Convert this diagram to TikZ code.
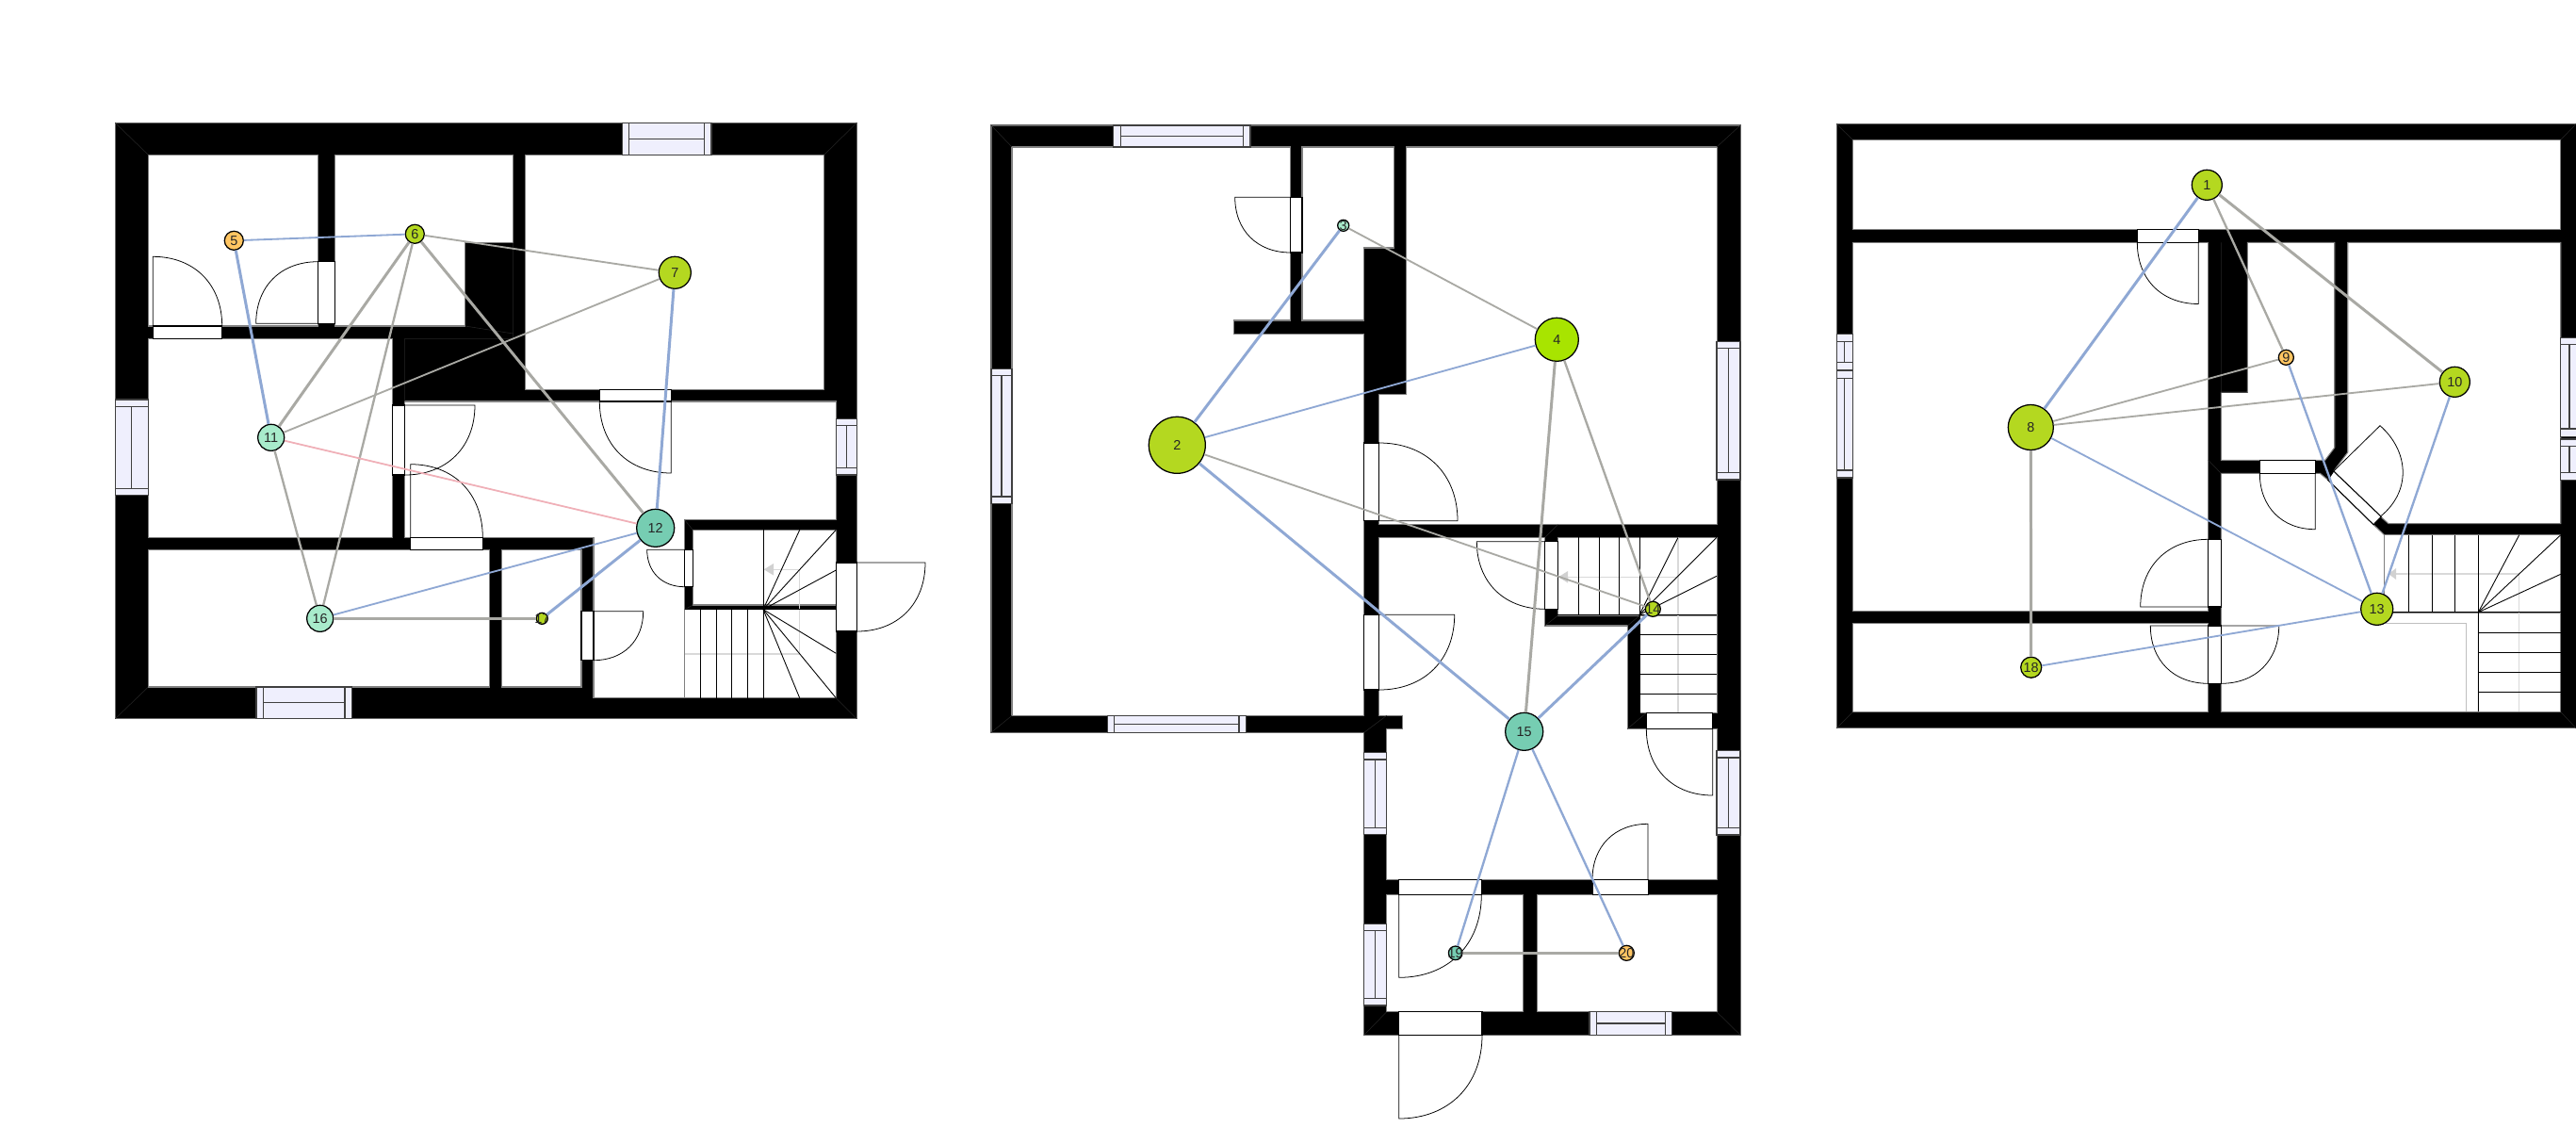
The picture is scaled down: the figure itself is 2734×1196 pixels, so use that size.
\documentclass[tikz,border=0pt]{standalone}
\usepackage{fontspec}
\setmainfont{Liberation Sans}
\definecolor{cblue}{HTML}{8FA8D4}
\definecolor{cgrey}{HTML}{A9A9A4}
\definecolor{cpink}{HTML}{F0B0B8}
\definecolor{cyg}{HTML}{B4D820}
\definecolor{clime}{HTML}{A8E400}
\definecolor{corange}{HTML}{FFC562}
\definecolor{cmint}{HTML}{A8EBCB}
\definecolor{cteal}{HTML}{76CDB2}
\definecolor{cglass}{HTML}{EFEFFD}
\tikzset{
 wallshape/.style={fill=black,draw=black!60,line width=0.3pt},
 roomshape/.style={fill=white,draw=black!50,line width=0.3pt},
 seam/.style={draw=black!85,line width=0.15pt},
 glass/.style={fill=cglass,draw=black!75,line width=0.35pt},
 opening/.style={fill=white,draw=black,line width=0.3pt},
 doorline/.style={draw=black,line width=0.22pt},
 stairline/.style={draw=black,line width=0.25pt},
 faint/.style={draw=black!15,line width=0.4pt},
 faintarrow/.style={fill=black!18,draw=none},
 lb/.style={line width=0.52pt,draw=cblue},
 lm/.style={line width=0.66pt,draw=cblue},
 lB/.style={line width=0.85pt,draw=cblue},
 lg/.style={line width=0.52pt,draw=cgrey},
 ln/.style={line width=0.66pt,draw=cgrey},
 lG/.style={line width=0.85pt,draw=cgrey},
 lp/.style={line width=0.5pt,draw=cpink},
 vtx/.style={circle,draw=black,line width=0.36pt,inner sep=0pt},
 lab/.style={font=\fontsize{4.1}{4.1}\selectfont,inner sep=0pt,text=black!85},
}
% horizontal window: x1 x2 y1 y2 xa xb
\newcommand\winH[6]{\draw[glass] (#1,#3) rectangle (#2,#4);
 \draw[glass] (#5,#3) -- (#5,#4) (#6,#3) -- (#6,#4) (#5,{(#3+#4)/2}) -- (#6,{(#3+#4)/2});}
% vertical window: x1 x2 y1 y2 ya yb
\newcommand\winV[6]{\draw[glass] (#1,#3) rectangle (#2,#4);
 \draw[glass] (#1,#5) -- (#2,#5) (#1,#6) -- (#2,#6) ({(#1+#2)/2},#5) -- ({(#1+#2)/2},#6);}
% door leaf: hinge, tip, far jamb
\newcommand\leaf[6]{\draw[doorline] (#1,#2) -- (#3,#4) .. controls ({#3+0.6*(#5-#1)},{#4+0.6*(#6-#2)}) and ({#5+0.6*(#3-#1)},{#6+0.6*(#4-#2)}) .. (#5,#6);}
\newcommand\vt[5]{\node[vtx,fill=#1,minimum size=#2*0.02cm,label={[lab]center:#5}] (n#5) at (#3,#4) {};}
\begin{document}
\begin{tikzpicture}[x=0.01cm,y=-0.01cm]
\useasboundingbox (0,0) rectangle (2734,1196);
%%%%%%%%%%%%%%%% PLAN 1
\draw[wallshape] (122.3,130.3) rectangle (909.3,762.7);
\draw[roomshape] (157.3,164.3) rectangle (337.3,346);
\draw[roomshape] (355.3,164.3) -- (544.7,164.3) -- (544.7,257.7) -- (493.7,257.7) -- (493.7,346) -- (355.3,346) -- cycle;
\fill[black] (494,258) rectangle (545.5,346);
\draw[roomshape] (557.7,164.3) rectangle (874.7,413.3);
\draw[roomshape] (157.3,359.3) rectangle (416.7,570.3);
\draw[roomshape] (429.7,426) -- (887.3,426) -- (887.3,551.7) -- (726.7,551.7) -- (726.7,740.7) -- (630,740.7) -- (630,570.3) -- (429.7,570.3) -- cycle;
\draw[roomshape] (157.3,583.3) rectangle (519.7,729);
\draw[roomshape] (532.7,583.3) rectangle (617,729);
\draw[roomshape] (735.3,562.3) rectangle (887.3,642);
\draw[roomshape] (726.7,646.7) rectangle (887.3,740.7);
\draw[seam] (122.3,130.3) -- (157.3,164.3) (909.3,130.3) -- (874.7,164.3) (122.3,762.7) -- (157.3,729) (909.3,762.7) -- (887.3,740.7)
 (429.7,426) -- (429.7,359.3) -- (544.7,359.3) (544.7,257.7) -- (544.7,359.3) (493.7,346) -- (544.7,354)
 (726.7,551.7) -- (735.3,562.3) (726.7,646.7) -- (735.3,642);
% stairs
\draw[faint] (726.7,694) -- (848.7,694) -- (848.7,604.3) -- (820,604.3);
\fill[faintarrow] (810.7,604.3) -- (821,598) -- (821,610.5) -- cycle;
\draw[stairline] (810,562.3) -- (810,740.7) (726.7,646.7) -- (887.3,646.7);
\foreach \sx in {743.7,760,776.7,793.7} {\draw[stairline] (\sx,646.7) -- (\sx,740.7);}
\foreach \ex/\ey in {848.7/562.3,887.3/562.3,887.3/605,887.3/693.3,887.3/740.7,848.7/740.7} {\draw[stairline] (810,646.7) -- (\ex,\ey);}
% windows
\winH{660.3}{755}{130.3}{164.3}{667.7}{747.7}
\winH{272}{373.3}{729}{762.7}{279.3}{366}
\winV{122.3}{157.3}{424}{525.7}{431.7}{518.3}
\winV{887.3}{909.3}{444.3}{504}{451.3}{496.7}
% doors
\draw[opening] (162.3,346) rectangle (235.7,359.3); \leaf{162.3}{346}{162.3}{272.3}{235.7}{346}
\draw[opening] (337.3,277.7) rectangle (355.3,343.3); \leaf{337.3}{343.3}{271.7}{343.3}{337.3}{277.7}
\draw[opening] (416.7,430) rectangle (429.7,504); \leaf{429.7}{430}{504}{430}{429.7}{504}
\draw[opening] (435.7,570.3) rectangle (512.3,583.3); \leaf{435.7}{570.3}{435.7}{492.7}{512.3}{570.3}
\draw[opening] (636.3,413.3) rectangle (712.3,426); \leaf{712.3}{426}{712.3}{502}{636.3}{426}
\draw[opening] (617,648.7) rectangle (630,700.7); \leaf{630}{648.7}{682.7}{648.7}{630}{700.7}
\draw[opening] (726.7,583.3) rectangle (735.3,622.7); \leaf{726.7}{583.3}{686.7}{583.3}{726.7}{622.7}
\draw[opening] (887.3,597) rectangle (909.3,670); \leaf{909.3}{597}{982}{597}{909.3}{670}
%%%%%%%%%%%%%%%% PLAN 2
\draw[wallshape] (1052,133) -- (1847,133) -- (1847,1098.3) -- (1447.7,1098.3) -- (1447.7,777.3) -- (1052,777.3) -- cycle;
\draw[roomshape] (1074,156) -- (1369.7,156) -- (1369.7,340) -- (1309.7,340) -- (1309.7,354.3) -- (1447.7,354.3) -- (1447.7,759.3) -- (1074,759.3) -- cycle;
\draw[roomshape] (1382,156) -- (1479.7,156) -- (1479.7,263) -- (1447.7,263) -- (1447.7,340) -- (1382,340) -- cycle;
\draw[roomshape] (1492.7,156) -- (1822,156) -- (1822,556.7) -- (1463.7,556.7) -- (1463.7,418.3) -- (1492.7,418.3) -- cycle;
\draw[roomshape] (1463.7,570.3) -- (1639.7,570.3) -- (1639.7,664) -- (1727.3,664) -- (1727.3,773.3) -- (1822,773.3) -- (1822,933.3) -- (1471.7,933.3) -- (1471.7,773.3) -- (1488.3,773.3) -- (1488.3,759.3) -- (1463.7,759.3) -- cycle;
\draw[roomshape] (1653.3,570.3) rectangle (1822,653.3);
\draw[roomshape] (1740,653.3) rectangle (1822,756.7);
\draw[roomshape] (1471.7,949.3) rectangle (1616.3,1073.7);
\draw[roomshape] (1631.3,949.3) rectangle (1822,1073.7);
\draw[seam] (1052,133) -- (1074,156) (1847,133) -- (1822,156) (1052,777.3) -- (1074,759.3) (1447.7,777.3) -- (1471.7,759.3)
 (1447.7,1098.3) -- (1471.7,1073.7) (1847,1098.3) -- (1822,1073.7) (1653.3,556.7) -- (1639.7,570.3)
 (1653.3,653.3) -- (1639.7,664) (1740,653.3) -- (1727.3,664) (1727.3,773.3) -- (1747,756.7);
% stairs
\draw[faint] (1781,570.3) -- (1781,756.7) (1781,612.3) -- (1664,612.3);
\fill[faintarrow] (1654,612.3) -- (1664,606) -- (1664,618.5) -- cycle;
\draw[stairline] (1740,570.3) -- (1740,756.7) (1653.3,652.3) -- (1822,652.3);
\foreach \sx in {1675,1697,1718.7} {\draw[stairline] (\sx,570.3) -- (\sx,652.3);}
\foreach \sy in {673.3,694.3,715.3,736.3} {\draw[stairline] (1740,\sy) -- (1822,\sy);}
\foreach \ex/\ey in {1781/570.3,1822/570.3,1822/611.3} {\draw[stairline] (1740,652.3) -- (\ex,\ey);}
% windows
\winH{1181.7}{1327}{133}{156}{1189.7}{1319.3}
\winH{1175.3}{1322.3}{759.3}{777.3}{1182.7}{1315}
\winH{1687}{1774.3}{1073.7}{1098.3}{1694.3}{1767.3}
\winV{1052}{1074}{391.7}{534.3}{398.7}{527}
\winV{1822}{1847}{362.3}{509}{369.3}{501.7}
\winV{1447.7}{1471.7}{798.7}{885.3}{806}{878.7}
\winV{1447.7}{1471.7}{980.7}{1067}{987.7}{1059.3}
\winV{1822}{1847}{796.7}{886}{804}{878.7}
% doors
\draw[opening] (1369.7,209.3) rectangle (1382,268); \leaf{1369.7}{209.3}{1310.7}{209.3}{1369.7}{268}
\draw[opening] (1447.7,470) rectangle (1463.7,552.7); \leaf{1463.7}{552.7}{1547}{552.7}{1463.7}{470}
\draw[opening] (1447.7,652.3) rectangle (1463.7,732); \leaf{1463.7}{652.3}{1543.7}{652.3}{1463.7}{732}
\draw[opening] (1639.7,574.7) rectangle (1653.3,646.3); \leaf{1639.7}{574.7}{1567.3}{574.7}{1639.7}{646.3}
\draw[opening] (1747.3,756.7) rectangle (1817.7,773.3); \leaf{1817.7}{773.3}{1817.7}{844}{1747.3}{773.3}
\draw[opening] (1484.7,933.3) rectangle (1572.3,949.3); \leaf{1484.7}{949.3}{1484.7}{1037.3}{1572.3}{949.3}
\draw[opening] (1690,933.3) rectangle (1749,949.3); \leaf{1749}{933.3}{1749}{874.3}{1690}{933.3}
\draw[opening] (1484.7,1073.7) rectangle (1573,1098.3); \leaf{1484.7}{1098.3}{1484.7}{1187}{1573}{1098.3}
%%%%%%%%%%%%%%%% PLAN 3
\draw[wallshape] (1949.3,131.5) rectangle (2736,772.7);
\draw[roomshape] (1966.3,148.4) rectangle (2717.7,243.4);
\draw[roomshape] (1966.3,257.3) rectangle (2343.7,648.8);
\draw[roomshape] (1966.3,661.5) rectangle (2343.7,755.5);
\draw[roomshape] (2385.3,257.3) -- (2477.7,257.3) -- (2477.7,475) -- (2467.7,488.3) -- (2357.3,488.3) -- (2357.3,416.3) -- (2385.3,416.3) -- cycle;
\draw[roomshape] (2491.7,257.3) -- (2717.7,257.3) -- (2717.7,555.7) -- (2535,555.7) -- (2526.7,548.3) -- (2476.7,500) -- (2491.7,480) -- cycle;
\draw[roomshape] (2357.3,502.3) -- (2462.3,502.3) -- (2470.7,509.3) -- (2519,556.7) -- (2530.7,567.7) -- (2530.7,650) -- (2630.3,650) -- (2630.3,755.3) -- (2357.3,755.3) -- cycle;
\draw[roomshape] (2530.7,567.7) rectangle (2717.7,650);
\draw[roomshape] (2630.3,650) rectangle (2717.7,755.3);
\draw[seam] (1949.3,131.5) -- (1966.3,148.4) (1949.3,772.7) -- (1966.3,755.5) (2734,131.5) -- (2717.7,148.4) (2734,772.7) -- (2717.7,755.3)
 (2343.7,488.3) -- (2357.3,502.3) (2357.3,257.3) -- (2357.3,416.3) -- (2385.3,416.3);
% stairs
\draw[draw=black!25,line width=0.3pt] (2532,661.3) -- (2617.7,661.3) -- (2617.7,755.3);
\draw[faint] (2673.7,609) -- (2673.7,755.3) (2673.7,609) -- (2543,609);
\fill[faintarrow] (2535,609) -- (2543,603) -- (2543,615) -- cycle;
\draw[stairline] (2630.3,567.7) -- (2630.3,755.3) (2530.7,649.7) -- (2717.7,649.7);
\foreach \sx in {2556.7,2581.3,2605.7} {\draw[stairline] (\sx,567.7) -- (\sx,649.7);}
\foreach \sy in {671,692.3,713.3,734.3} {\draw[stairline] (2630.3,\sy) -- (2717.7,\sy);}
\foreach \ex/\ey in {2673.7/567.7,2717.7/567.7,2717.7/609.3} {\draw[stairline] (2630.3,649.7) -- (\ex,\ey);}
% windows
\winV{1949.3}{1966.3}{354.1}{392.8}{362.1}{384.4}
\winV{1949.3}{1966.3}{393.7}{507}{401.3}{499}
\winV{2717.7}{2736}{358.3}{463.3}{365.7}{455}
\winV{2717.7}{2736}{466}{509.3}{473.3}{501.7}
% doors
\draw[opening] (2268.3,243.4) rectangle (2333.3,257.3); \leaf{2333.3}{257.3}{2333.3}{322.5}{2268.3}{257.3}
\draw[opening] (2343.7,572.3) rectangle (2357.3,644); \leaf{2343.7}{644}{2271.7}{644}{2343.7}{572.3}
\draw[opening] (2343.7,664) rectangle (2357.3,725.3); \leaf{2343.7}{664}{2282.3}{664}{2343.7}{725.3}
\leaf{2357.3}{664}{2418.7}{664}{2357.3}{725.3}
\draw[opening] (2398.3,488.3) rectangle (2457.3,502.3); \leaf{2457.3}{502.3}{2457.3}{561.7}{2398.3}{502.3}
\draw[opening] (2476.7,500) -- (2527.3,548.3) -- (2519,556.7) -- (2470.7,509.3) -- cycle;
\draw[doorline] (2476.7,500) -- (2526,451.7) .. controls (2556,478) and (2560,520) .. (2527.3,547.3);
%%%%%%%%%%%%%%%% NODES
\vt{corange}{10}{248.3}{255.3}{5}
\vt{cyg}{10}{440.3}{248.3}{6}
\vt{cyg}{17}{716.3}{289.3}{7}
\vt{cmint}{14}{287.7}{464.3}{11}
\vt{cteal}{20}{695.7}{560.3}{12}
\vt{cmint}{14}{339.7}{656.3}{16}
\vt{cyg}{6}{575.3}{656.3}{17}
\vt{cyg}{30}{1249.3}{472.3}{2}
\vt{cmint}{6}{1425.7}{239.3}{3}
\vt{clime}{23}{1652.3}{360.3}{4}
\vt{cyg}{8}{1754.3}{646.3}{14}
\vt{cteal}{20}{1617.7}{776.3}{15}
\vt{cteal}{7.3}{1544.7}{1011.3}{19}
\vt{corange}{8}{1726.3}{1011.3}{20}
\vt{cyg}{16}{2342.3}{196.3}{1}
\vt{cyg}{24}{2155.3}{453.5}{8}
\vt{corange}{8}{2426.3}{379.3}{9}
\vt{cyg}{16}{2605.3}{405.3}{10}
\vt{cyg}{17}{2522.7}{646.3}{13}
\vt{cyg}{11}{2155.7}{708.2}{18}
%%%%%%%%%%%%%%%% LINKS
\draw[lb] (n5) -- (n6);
\draw[lB] (n5) -- (n11);
\draw[lg] (n6) -- (n7);
\draw[lG] (n6) -- (n11);
\draw[ln] (n6) -- (n16);
\draw[lG] (n6) -- (n12);
\draw[lg] (n7) -- (n11);
\draw[lB] (n7) -- (n12);
\draw[ln] (n11) -- (n16);
\draw[lp] (n11) -- (n12);
\draw[lb] (n12) -- (n16);
\draw[lB] (n12) -- (n17);
\draw[lG] (n16) -- (n17);
\draw[lB] (n2) -- (n3);
\draw[lb] (n2) -- (n4);
\draw[lg] (n2) -- (n14);
\draw[lB] (n2) -- (n15);
\draw[lg] (n3) -- (n4);
\draw[ln] (n4) -- (n14);
\draw[lG] (n4) -- (n15);
\draw[lB] (n14) -- (n15);
\draw[lm] (n15) -- (n19);
\draw[lm] (n15) -- (n20);
\draw[lG] (n19) -- (n20);
\draw[lB] (n1) -- (n8);
\draw[ln] (n1) -- (n9);
\draw[lG] (n1) -- (n10);
\draw[lg] (n8) -- (n9);
\draw[lg] (n8) -- (n10);
\draw[lb] (n8) -- (n13);
\draw[lG] (n8) -- (n18);
\draw[lm] (n9) -- (n13);
\draw[lm] (n10) -- (n13);
\draw[lb] (n13) -- (n18);
\end{tikzpicture}
\end{document}
